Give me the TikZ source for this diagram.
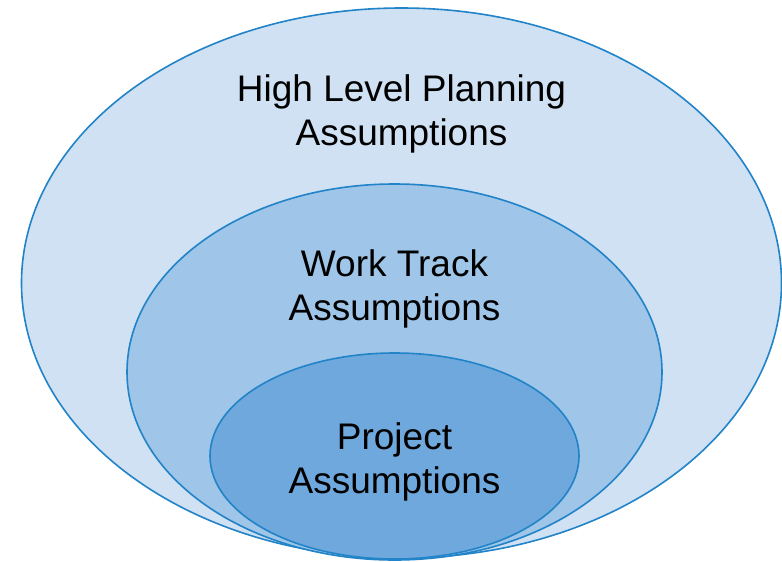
\documentclass[tikz,border=0pt]{standalone}
\usepackage{fontspec}
\setmainfont{Liberation Sans}
\usetikzlibrary{shapes.geometric}
\definecolor{ringline}{HTML}{2183C8}
\definecolor{fillA}{HTML}{CFE1F3}
\definecolor{fillB}{HTML}{9FC5E8}
\definecolor{fillC}{HTML}{6FA8DC}
\tikzset{
  ring/.style={ellipse, draw=ringline, line width=1.2pt, inner sep=0pt},
  label/.style={align=center, font=\fontsize{27.75}{33}\selectfont, text=black, inner sep=0pt}
}
\begin{document}
\begin{tikzpicture}[x=0.75pt,y=-0.75pt]
\useasboundingbox (0,0) rectangle (782,561);
\node[ring, fill=fillA, minimum width=760pt*0.75, minimum height=550pt*0.75] (outer) at (401.5,283) {};
\node[ring, fill=fillB, minimum width=535pt*0.75, minimum height=376pt*0.75] (middle) at (394.5,372) {};
\node[ring, fill=fillC, minimum width=369pt*0.75, minimum height=206pt*0.75] (inner) at (394.5,456) {};
\node[label] (t1) at (401.5,114) {High Level Planning\\Assumptions};
\node[label] (t2) at (394.5,289) {Work Track\\Assumptions};
\node[label] (t3) at (394.5,462) {Project\\Assumptions};
\end{tikzpicture}
\end{document}
